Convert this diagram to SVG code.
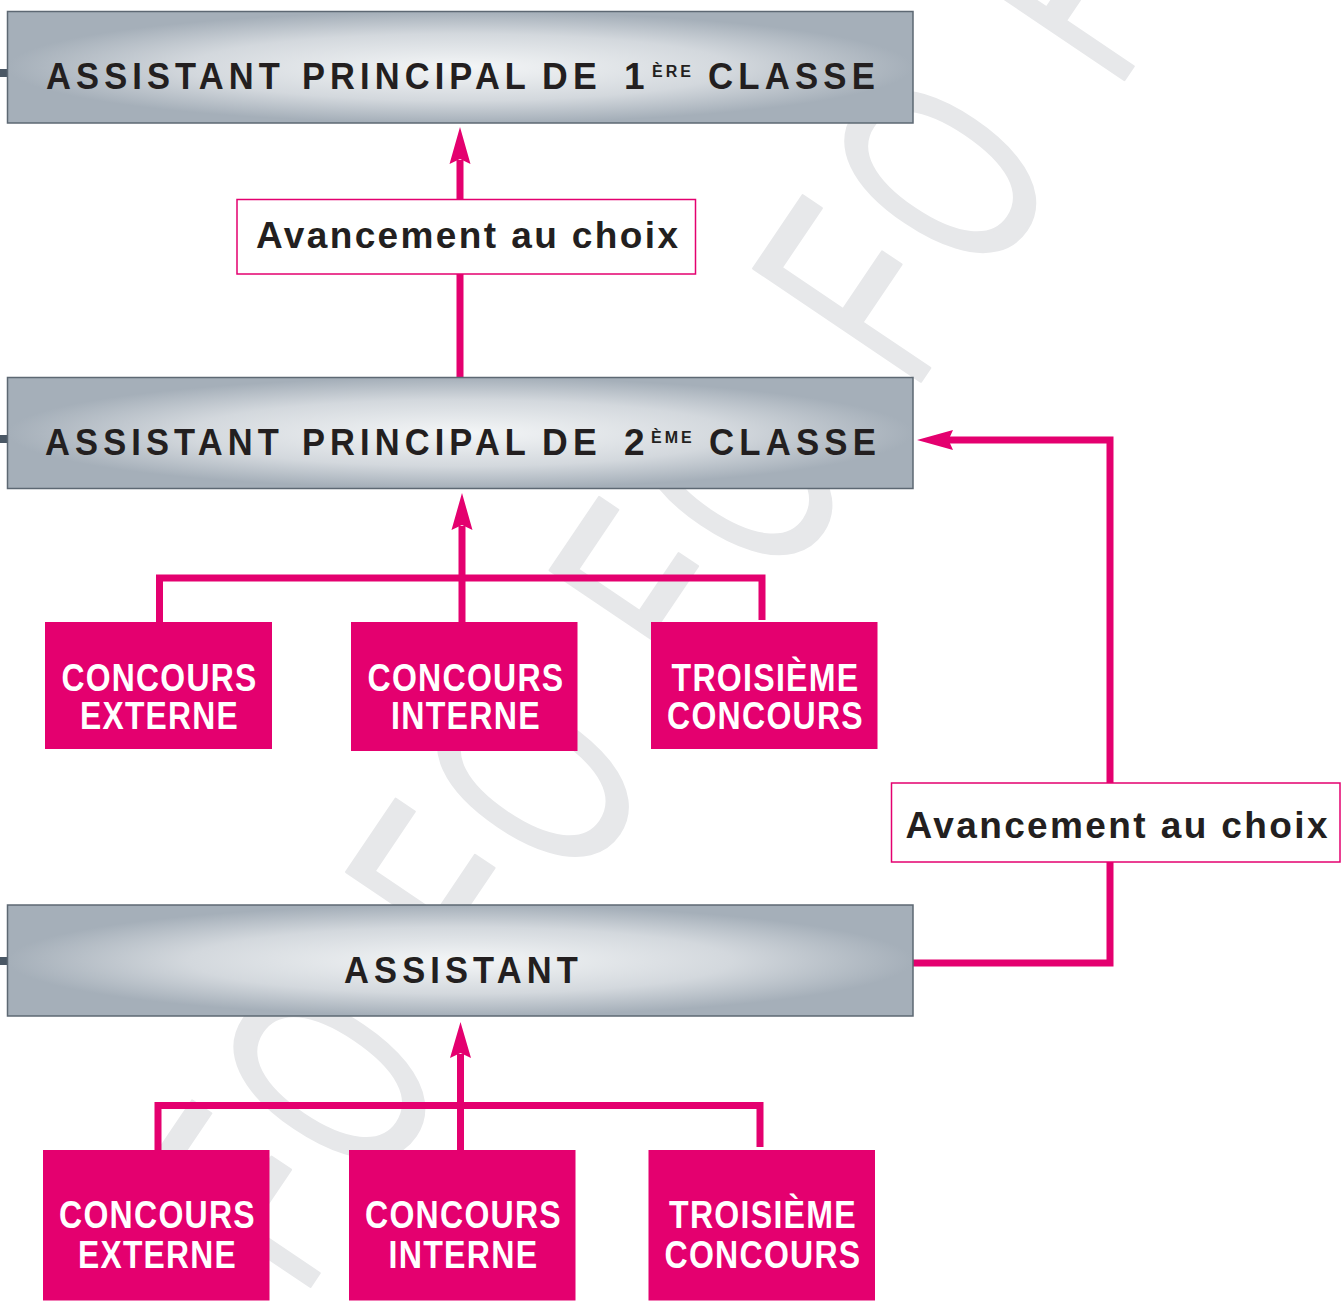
<svg xmlns="http://www.w3.org/2000/svg" width="1343" height="1308" viewBox="0 0 1343 1308">
<style>
.grade{fill:url(#steel);stroke:#5d6873;stroke-width:1.5}
.stub{fill:#4a5764}
.gt{font-family:"Liberation Sans",Arial,sans-serif;font-weight:bold;font-size:37px;letter-spacing:5.5px;fill:#231f20}
.sup{font-family:"Liberation Sans",Arial,sans-serif;font-weight:bold;font-size:16px;letter-spacing:3px;fill:#231f20}
.pink{fill:#e4006f}
.pt{font-family:"Liberation Sans Narrow","Liberation Sans",Arial,sans-serif;font-weight:bold;font-size:38px;letter-spacing:1.5px;fill:#ffffff;text-anchor:middle}
.lab{fill:#ffffff;stroke:#e4006f;stroke-width:1.5}
.lt{font-family:"Liberation Sans",Arial,sans-serif;font-weight:bold;font-size:37px;fill:#231f20}
.wire{fill:none;stroke:#e4006f;stroke-width:7;stroke-linejoin:miter}
.head{fill:#e4006f}
.wm{font-family:"Liberation Sans",Arial,sans-serif;font-size:293px;fill:#e7e8ea;stroke:#e7e8ea;stroke-width:3;stroke-linejoin:round}
</style>
<defs>
<radialGradient id="steel" cx="0.5" cy="0.5" r="0.5" gradientUnits="objectBoundingBox">
<stop offset="0" stop-color="#f4f6f7"/>
<stop offset="0.6" stop-color="#d3d8dd"/>
<stop offset="1" stop-color="#a5afb9"/>
</radialGradient>
</defs>
<rect width="1343" height="1308" fill="#ffffff"/>
<g id="watermark" transform="translate(925 375) rotate(-56) scale(0.62 1)">
<text class="wm" x="-1798 -1590 -1211 -1003 -624 -416 -37 172 550" y="0">FOFOFOFOF</text>
</g>
<g id="connectors">
<path class="wire" d="M460 378 V160"/>
<path class="head" d="M460 127 L470.5 164 L460 159 L449.5 164 Z"/>
<path class="wire" d="M159.5 622 V578 H762 V620"/>
<path class="wire" d="M462 622 V526"/>
<path class="head" d="M462 493 L472.5 530 L462 525 L451.5 530 Z"/>
<path class="wire" d="M158 1150 V1105.5 H760 V1147"/>
<path class="wire" d="M460.5 1150 V1054"/>
<path class="head" d="M460.5 1022 L471 1058 L460.5 1053 L450 1058 Z"/>
<path class="wire" d="M913 963 H1110 V440 H948"/>
<path class="head" d="M917 440 L953 430 L948.5 440 L953 450 Z"/>
</g>
<g id="node-ap1">
<rect class="stub" x="0" y="69" width="8" height="8"/>
<rect class="grade" x="7.5" y="11.5" width="905.5" height="111.5"/>
<text class="gt" x="46" y="89" textLength="239" lengthAdjust="spacingAndGlyphs">ASSISTANT</text>
<text class="gt" x="302" y="89" textLength="229" lengthAdjust="spacingAndGlyphs">PRINCIPAL</text>
<text class="gt" x="542" y="89" textLength="60" lengthAdjust="spacingAndGlyphs">DE</text>
<text class="gt" x="624" y="89">1</text>
<text class="sup" x="652" y="77">ÈRE</text>
<text class="gt" x="708" y="89" textLength="172" lengthAdjust="spacingAndGlyphs">CLASSE</text>
</g>
<g id="label-choix-1">
<rect class="lab" x="237" y="199.5" width="458.5" height="74.5"/>
<text class="lt" x="256" y="248" textLength="422" lengthAdjust="spacing">Avancement au choix</text>
</g>
<g id="node-ap2">
<rect class="stub" x="0" y="435" width="8" height="8"/>
<rect class="grade" x="7.5" y="377.5" width="905.5" height="111"/>
<text class="gt" x="45" y="455" textLength="239" lengthAdjust="spacingAndGlyphs">ASSISTANT</text>
<text class="gt" x="302" y="455" textLength="229" lengthAdjust="spacingAndGlyphs">PRINCIPAL</text>
<text class="gt" x="542" y="455" textLength="60" lengthAdjust="spacingAndGlyphs">DE</text>
<text class="gt" x="624" y="455">2</text>
<text class="sup" x="651" y="443">ÈME</text>
<text class="gt" x="709" y="455" textLength="172" lengthAdjust="spacingAndGlyphs">CLASSE</text>
</g>
<g id="node-ext-1">
<rect class="pink" x="45" y="622" width="227" height="127"/>
<text class="pt" x="159.5" y="691" textLength="196" lengthAdjust="spacingAndGlyphs">CONCOURS</text>
<text class="pt" x="159.5" y="729" textLength="159" lengthAdjust="spacingAndGlyphs">EXTERNE</text>
</g>
<g id="node-int-1">
<rect class="pink" x="351" y="622" width="226.5" height="129"/>
<text class="pt" x="466" y="691" textLength="197" lengthAdjust="spacingAndGlyphs">CONCOURS</text>
<text class="pt" x="466" y="729" textLength="150" lengthAdjust="spacingAndGlyphs">INTERNE</text>
</g>
<g id="node-3e-1">
<rect class="pink" x="651" y="622" width="226.5" height="127"/>
<text class="pt" x="765.5" y="691" textLength="188" lengthAdjust="spacingAndGlyphs">TROISIÈME</text>
<text class="pt" x="765.5" y="729" textLength="197" lengthAdjust="spacingAndGlyphs">CONCOURS</text>
</g>
<g id="label-choix-2">
<rect class="lab" x="891.5" y="783" width="448.5" height="79"/>
<text class="lt" x="905.5" y="838" textLength="422" lengthAdjust="spacing">Avancement au choix</text>
</g>
<g id="node-assistant">
<rect class="stub" x="0" y="957" width="8" height="8"/>
<rect class="grade" x="7.5" y="905" width="905.5" height="111"/>
<text class="gt" x="344" y="983" textLength="239" lengthAdjust="spacingAndGlyphs">ASSISTANT</text>
</g>
<g id="node-ext-2">
<rect class="pink" x="43" y="1150" width="226.5" height="150.5"/>
<text class="pt" x="157.5" y="1228" textLength="197" lengthAdjust="spacingAndGlyphs">CONCOURS</text>
<text class="pt" x="157.5" y="1268" textLength="159" lengthAdjust="spacingAndGlyphs">EXTERNE</text>
</g>
<g id="node-int-2">
<rect class="pink" x="349" y="1150" width="226.5" height="150.5"/>
<text class="pt" x="463.5" y="1228" textLength="197" lengthAdjust="spacingAndGlyphs">CONCOURS</text>
<text class="pt" x="463.5" y="1268" textLength="150" lengthAdjust="spacingAndGlyphs">INTERNE</text>
</g>
<g id="node-3e-2">
<rect class="pink" x="648.5" y="1150" width="226.5" height="150.5"/>
<text class="pt" x="763" y="1228" textLength="188" lengthAdjust="spacingAndGlyphs">TROISIÈME</text>
<text class="pt" x="763" y="1268" textLength="197" lengthAdjust="spacingAndGlyphs">CONCOURS</text>
</g>
</svg>
